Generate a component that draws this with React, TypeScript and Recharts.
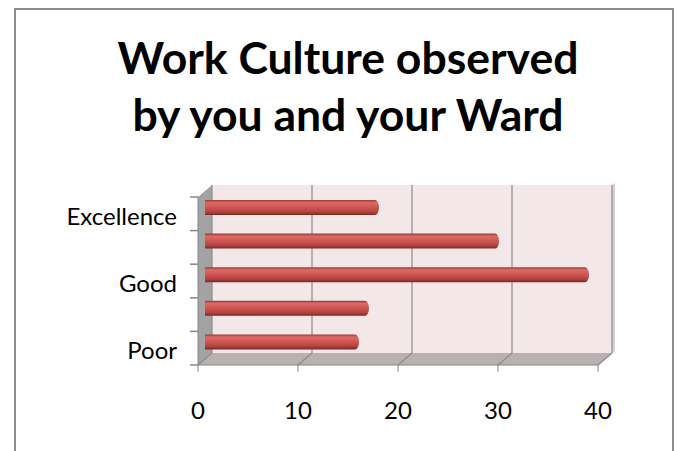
import React from 'react';
import { BarChart, Bar, XAxis, YAxis, ReferenceArea, ReferenceLine } from 'recharts';

// ---- data ----
const CATEGORIES = ['Excellence', 'Very Good', 'Good', 'Average', 'Poor'];
const VALUES = [17, 29, 38, 16, 15];
const X_TICKS = [0, 10, 20, 30, 40];
const SHOWN_LABELS = ['Excellence', 'Good', 'Poor'];
const TITLE_LINES = ['Work Culture observed', 'by you and your Ward'];

const data = CATEGORIES.map((name, i) => ({ name, value: VALUES[i] }));

// ---- layout ----
const W = 683;
const H = 451;
const MARGIN = { top: 197, right: 85, bottom: 0, left: 0 };
const Y_AXIS_W = 198;
const X_AXIS_H = 86;
const DX = 14;
const DY = -12;
const PLOT_H = H - MARGIN.top - MARGIN.bottom - X_AXIS_H;
const HALF_BAND = PLOT_H / CATEGORIES.length / 2;
const FONT = 'Lato, "Open Sans", sans-serif';
const AXIS_GRAY = '#868686';

const Walls = (props: any) => {
  const { x, y, width, height } = props;
  const bx = x + DX;
  const by = y + DY;
  return (
    <g>
      <rect x={bx} y={by} width={width} height={height} fill="#f4e7e7" />
      <polygon
        points={`${bx + width},${by} ${bx + width + 3},${by - 2} ${bx + width + 3},${by + height - 2} ${bx + width},${by + height}`}
        fill="#d6d0d0"
      />
      <polygon
        points={`${x},${y} ${bx},${by} ${bx},${by + height} ${x},${y + height}`}
        fill="#a3a3a3"
      />
      <polygon
        points={`${x},${y + height} ${bx},${by + height} ${bx + width},${by + height} ${x + width},${y + height}`}
        fill="#b9b1b1"
      />
      <polygon
        points={`${x + width},${y + height} ${bx + width},${by + height} ${bx + width + 3},${by + height - 2} ${x + width + 3},${y + height - 2}`}
        fill="#d0caca"
      />
    </g>
  );
};

const GridLine = (p: any) => {
  const x = p.x1;
  const top = Math.min(p.y1, p.y2);
  const bottom = Math.max(p.y1, p.y2);
  return (
    <g>
      <line x1={x + DX} y1={top + DY} x2={x + DX} y2={bottom + DY} stroke="#8c8c8c" strokeWidth={1.2} />
      <line x1={x} y1={bottom} x2={x + DX} y2={bottom + DY} stroke="#8c8c8c" strokeWidth={1.2} />
    </g>
  );
};

const Cylinder = (p: any) => {
  const { x, y, width, height, index } = p;
  const bx = x + DX / 2;
  const by = y + DY / 2;
  const rx = 4;
  const ry = height / 2;
  const id = `cyl-grad-${index}`;
  return (
    <g>
      <defs>
        <linearGradient id={id} x1="0" y1="0" x2="0" y2="1">
          <stop offset="0" stopColor="#9a3835" />
          <stop offset="0.18" stopColor="#dc6a66" />
          <stop offset="0.45" stopColor="#d05855" />
          <stop offset="0.8" stopColor="#b2423f" />
          <stop offset="1" stopColor="#7a2624" />
        </linearGradient>
      </defs>
      <path
        d={`M${bx},${by} L${bx + width},${by} A${rx},${ry} 0 0 1 ${bx + width},${by + height} L${bx},${by + height} Z`}
        fill={`url(#${id})`}
      />
    </g>
  );
};

const CatTick = (p: any) => {
  const { x, y, payload, index } = p;
  const isLast = index === CATEGORIES.length - 1;
  return (
    <g>
      <line x1={x - 8} y1={y - HALF_BAND} x2={x} y2={y - HALF_BAND} stroke={AXIS_GRAY} strokeWidth={1.5} />
      {isLast && (
        <line x1={x - 8} y1={y + HALF_BAND} x2={x} y2={y + HALF_BAND} stroke={AXIS_GRAY} strokeWidth={1.5} />
      )}
      {SHOWN_LABELS.includes(payload.value) && (
        <text x={x - 21} y={y + 11} textAnchor="end" fill="#000" fontSize={24} fontFamily={FONT}>
          {payload.value}
        </text>
      )}
    </g>
  );
};

export default function App() {
  return (
    <div style={{ position: 'absolute', left: 0, top: 0, width: W, height: H, overflow: 'hidden', background: '#fff' }}>
      <div
        style={{
          position: 'absolute',
          left: 14,
          top: 8,
          width: 660,
          height: 500,
          border: '2px solid #8c8c8c',
          boxSizing: 'border-box',
        }}
      />
      <svg width={W} height={170} style={{ position: 'absolute', left: 0, top: 0 }}>
        {TITLE_LINES.map((t, i) => (
          <text
            key={t}
            x={348}
            y={74 + i * 57}
            textAnchor="middle"
            fontFamily={FONT}
            fontWeight={700}
            fontSize={44.5}
            fill="#000"
          >
            {t}
          </text>
        ))}
      </svg>
      <div style={{ position: 'absolute', left: 0, top: 0 }}>
        <BarChart width={W} height={H} data={data} layout="vertical" margin={MARGIN}>
          <XAxis
            type="number"
            domain={[0, 40]}
            ticks={X_TICKS}
            interval={0}
            height={X_AXIS_H}
            tickSize={7}
            tickMargin={30}
            stroke={AXIS_GRAY}
            tick={{ fill: '#000', fontSize: 24, fontFamily: FONT }}
          />
          <YAxis
            type="category"
            dataKey="name"
            width={Y_AXIS_W}
            interval={0}
            tickLine={false}
            tickSize={0}
            tickMargin={0}
            stroke={AXIS_GRAY}
            tick={<CatTick />}
          />
          <ReferenceArea x1={0} x2={40} shape={<Walls />} ifOverflow="visible" zIndex={-200} />
          {X_TICKS.map((t) => (
            <ReferenceLine key={t} x={t} shape={<GridLine />} ifOverflow="visible" zIndex={-150} />
          ))}
          <Bar dataKey="value" barSize={15} isAnimationActive={false} shape={<Cylinder />} />
        </BarChart>
      </div>
    </div>
  );
}
